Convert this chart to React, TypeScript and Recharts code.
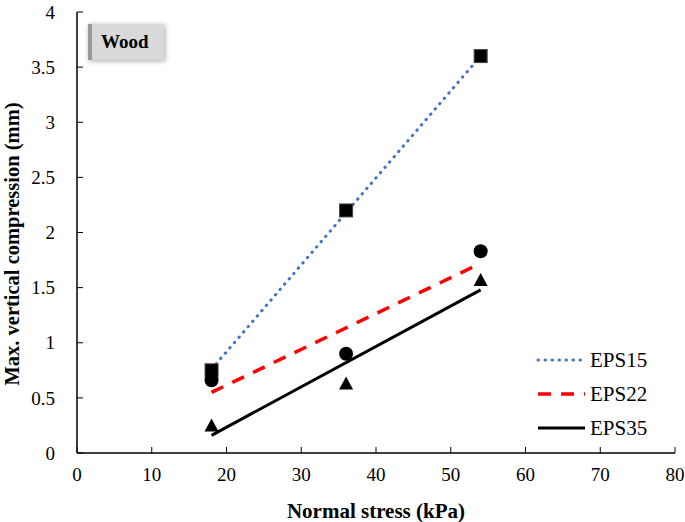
import React from "react";
import { ComposedChart, Line, Scatter, XAxis, YAxis } from "recharts";

// measured points (normal stress kPa -> max vertical compression mm)
const stressPoints = [18, 36, 54];
const eps15Measured = [0.75, 2.2, 3.6];
const eps22Measured = [0.66, 0.9, 1.83];
const eps35Measured = [0.25, 0.63, 1.57];

// linear trend lines
const trendStress = [18, 54];
const eps15Trend = [0.76, 3.6];
const eps22Trend = [0.55, 1.72];
const eps35Trend = [0.16, 1.48];

const xTicks = [0, 10, 20, 30, 40, 50, 60, 70, 80];
const yTicks = [0, 0.5, 1, 1.5, 2, 2.5, 3, 3.5, 4];

const seriesNames = ["EPS15", "EPS22", "EPS35"];

const toPoints = (xs: number[], ys: number[]) => xs.map((x, i) => ({ x, y: ys[i] }));

const FONT = "'Liberation Serif', 'Times New Roman', serif";

const lineStyles = [
  { stroke: "#4472C4", strokeWidth: 3, strokeDasharray: "0.5 6.5", strokeLinecap: "round" as const },
  { stroke: "#FF0000", strokeWidth: 3.5, strokeDasharray: "13 10", strokeLinecap: "butt" as const },
  { stroke: "#000000", strokeWidth: 3, strokeDasharray: undefined, strokeLinecap: "butt" as const },
];

function SquareMark({ cx, cy }: { cx?: number; cy?: number }) {
  if (cx == null || cy == null) return null;
  return <rect x={cx - 6.5} y={cy - 6.5} width={13} height={13} fill="#000" stroke="#444" strokeWidth={1} />;
}

function CircleMark({ cx, cy }: { cx?: number; cy?: number }) {
  if (cx == null || cy == null) return null;
  return <circle cx={cx} cy={cy} r={7} fill="#000" />;
}

function TriangleMark({ cx, cy }: { cx?: number; cy?: number }) {
  if (cx == null || cy == null) return null;
  return <polygon points={`${cx},${cy - 7} ${cx + 7},${cy + 6} ${cx - 7},${cy + 6}`} fill="#000" />;
}

function LegendBox() {
  return (
    <svg width={150} height={110} style={{ position: "absolute", left: 535, top: 340, overflow: "visible" }}>
      {seriesNames.map((name, i) => {
        const y = 20 + i * 34;
        const s = lineStyles[i];
        return (
          <g key={name}>
            <line x1={3} x2={50} y1={y} y2={y} stroke={s.stroke} strokeWidth={s.strokeWidth}
              strokeDasharray={s.strokeDasharray} strokeLinecap={s.strokeLinecap} />
            <text x={55} y={y} dy="0.35em" style={{ fontFamily: FONT, fontSize: 21 }} fill="#000">{name}</text>
          </g>
        );
      })}
    </svg>
  );
}

function YTitle() {
  return (
    <text x={14} y={244} transform="rotate(-90 14 244)" textAnchor="middle" dominantBaseline="middle"
      style={{ fontFamily: FONT, fontSize: 20.5, fontWeight: "bold" }} fill="#000">
      Max. vertical compression (mm)
    </text>
  );
}

export default function App() {
  const tickStyle = { fontFamily: FONT, fontSize: 19, fill: "#000" };
  return (
    <div style={{ position: "absolute", left: 0, top: 0, width: 685, height: 522, background: "#fff", fontFamily: FONT }}>
      <ComposedChart width={685} height={522} margin={{ top: 12, right: 10, left: 0, bottom: 0 }} style={{ fontFamily: FONT }}>
        <XAxis dataKey="x" type="number" domain={[0, 80]} ticks={xTicks} interval={0}
          height={69} tick={tickStyle} tickSize={-6} tickMargin={21}
          axisLine={{ stroke: "#000", strokeWidth: 1.5 }} tickLine={{ stroke: "#000", strokeWidth: 1 }}
          label={{ value: "Normal stress (kPa)", position: "insideBottom", offset: 4,
            style: { fontFamily: FONT, fontSize: 21, fontWeight: "bold", fill: "#000" } }} />
        <XAxis xAxisId="top" orientation="top" dataKey="x" type="number" domain={[0, 80]} height={0}
          tick={false} tickLine={false} axisLine={{ stroke: "#000", strokeWidth: 1.5 }} />
        <YAxis type="number" domain={[0, 4]} ticks={yTicks} interval={0} width={77}
          tick={tickStyle} tickSize={-6} tickMargin={28}
          axisLine={{ stroke: "#000", strokeWidth: 1.5 }} tickLine={{ stroke: "#000", strokeWidth: 1 }}
          label={<YTitle />} />
        <YAxis yAxisId="right" orientation="right" type="number" domain={[0, 4]} width={0}
          tick={false} tickLine={false} axisLine={{ stroke: "#000", strokeWidth: 1.5 }} />

        <Scatter data={toPoints(stressPoints, eps15Measured)} dataKey="y" shape={<SquareMark />} isAnimationActive={false} legendType="none" />
        <Scatter data={toPoints(stressPoints, eps22Measured)} dataKey="y" shape={<CircleMark />} isAnimationActive={false} legendType="none" />
        <Scatter data={toPoints(stressPoints, eps35Measured)} dataKey="y" shape={<TriangleMark />} isAnimationActive={false} legendType="none" />

        {[eps15Trend, eps22Trend, eps35Trend].map((trend, i) => (
          <Line key={seriesNames[i]} name={seriesNames[i]} data={toPoints(trendStress, trend)} dataKey="y"
            type="linear" dot={false} activeDot={false} isAnimationActive={false}
            stroke={lineStyles[i].stroke} strokeWidth={lineStyles[i].strokeWidth}
            strokeDasharray={lineStyles[i].strokeDasharray} strokeLinecap={lineStyles[i].strokeLinecap} />
        ))}
      </ComposedChart>
      <LegendBox />
      <div style={{
        position: "absolute", left: 88, top: 24, width: 76, height: 36, background: "#d9d9d9",
        boxShadow: "1px 1px 5px rgba(0,0,0,0.35)", borderLeft: "4px solid #999",
        fontFamily: FONT, fontWeight: "bold", fontSize: 19, display: "flex", alignItems: "center",
        paddingLeft: 9, boxSizing: "border-box",
      }}>
        Wood
      </div>
    </div>
  );
}
